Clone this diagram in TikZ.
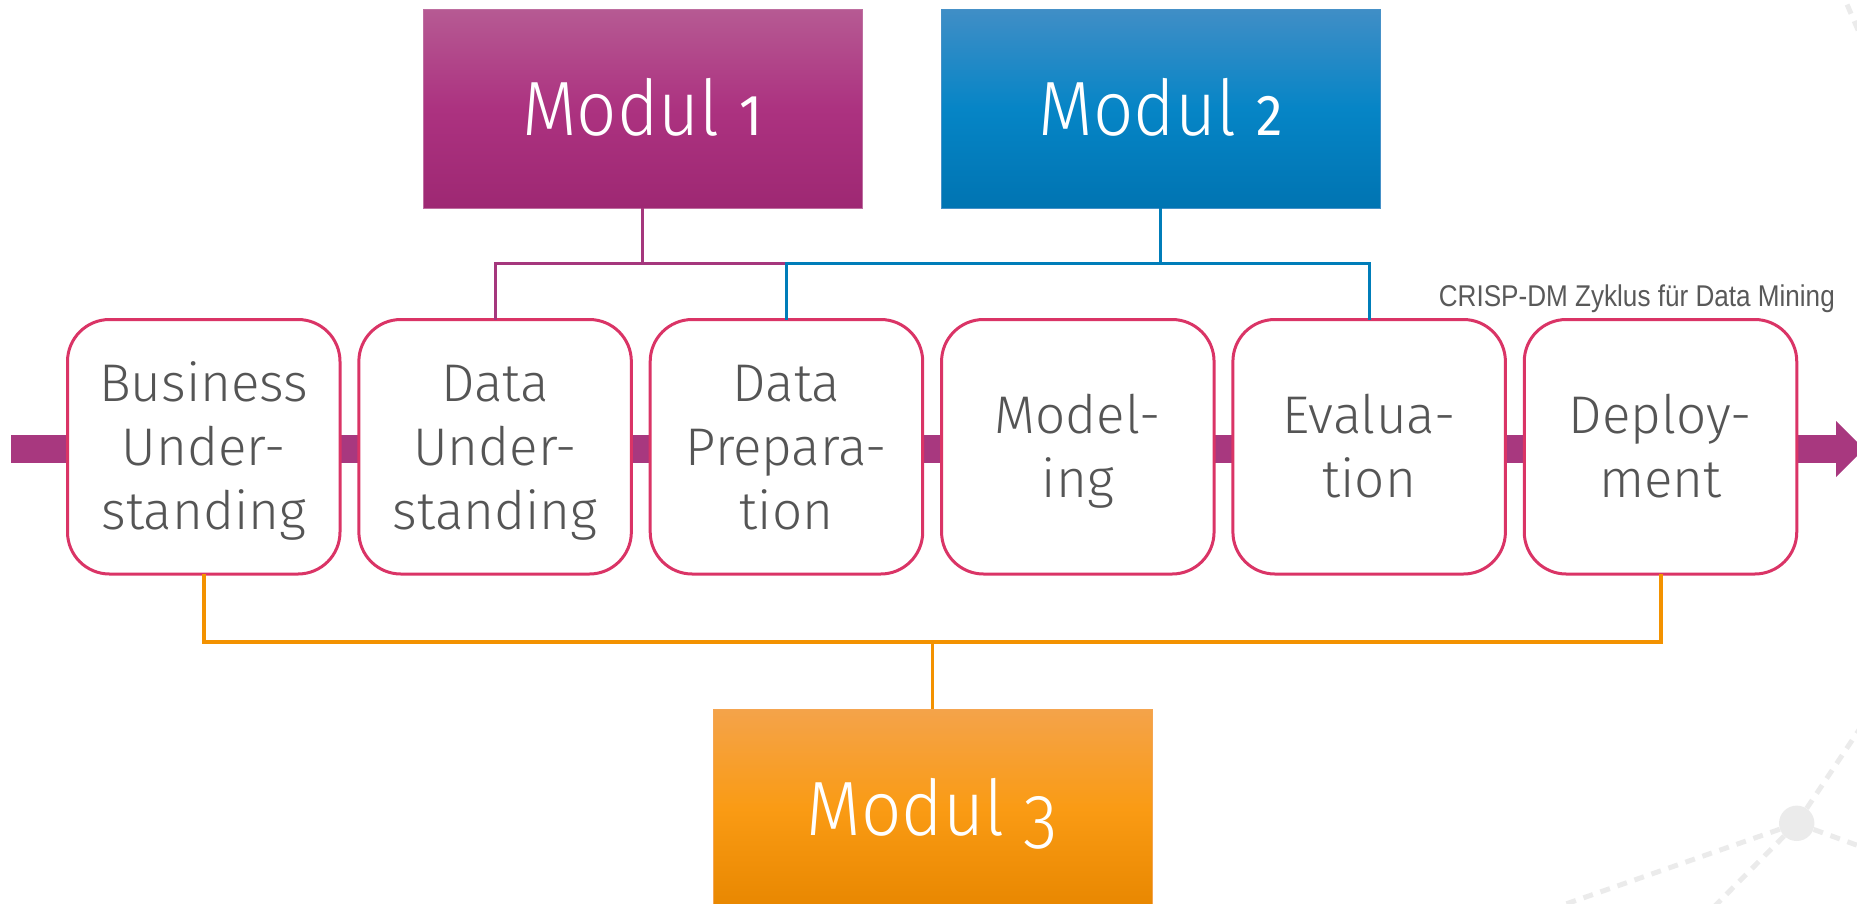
\documentclass[tikz,border=0pt]{standalone}
\usepackage{fontspec}
\usepackage{graphicx}
\setmainfont{Fira Sans Light}
\newfontfamily\firamod{Fira Sans Light}
\newfontfamily\firadigit{Fira Sans}
\newfontfamily\capfont{Liberation Sans}

\definecolor{stageborder}{RGB}{218,52,102}
\definecolor{stagetext}{RGB}{85,85,85}
\definecolor{flowband}{RGB}{168,56,127}
\definecolor{lineone}{RGB}{165,55,125}
\definecolor{linetwo}{RGB}{0,125,185}
\definecolor{linethree}{RGB}{243,146,0}
\definecolor{decor}{RGB}{235,235,235}
\definecolor{captext}{RGB}{89,89,89}

% struts that centre the capital letters of a stage label in its box
\newcommand\topstrut{\rule{0pt}{52pt}}
\newcommand\botstrut{\rule[-15.5pt]{0pt}{15.5pt}}
% module titles are set slightly narrow, with old-style figures
\newcommand\modtitle[1]{\scalebox{0.92}[1]{#1}}
\newcommand\osfsmall[1]{\scalebox{0.75}{\firadigit #1}}
\newcommand\osfdesc[1]{\raisebox{-13pt}{#1}}

\tikzset{
  stage/.style={draw=stageborder, line width=3pt, fill=white,
    rounded corners=42pt, minimum width=272.5pt, minimum height=254.5pt,
    inner sep=0pt, outer sep=0pt, align=center, text=stagetext,
    font=\fontsize{53}{64}\selectfont},
  modul/.style={minimum width=439pt, minimum height=199pt, inner sep=0pt,
    outer sep=0pt, text=white, line width=1pt,
    font=\firamod\fontsize{77}{77}\selectfont,
    text height=53pt, text depth=0pt},
  modone/.style={modul, draw={rgb,255:red,190;green,110;blue,160},
    top color={rgb,255:red,182;green,90;blue,147},
    bottom color={rgb,255:red,158;green,40;blue,115},
    middle color={rgb,255:red,172;green,50;blue,128}},
  modtwo/.style={modul, draw={rgb,255:red,70;green,145;blue,200},
    top color={rgb,255:red,64;green,142;blue,198},
    bottom color={rgb,255:red,0;green,116;blue,178},
    middle color={rgb,255:red,6;green,133;blue,198}},
  modthree/.style={modul, draw={rgb,255:red,245;green,165;blue,80},
    top color={rgb,255:red,244;green,163;blue,74},
    bottom color={rgb,255:red,232;green,135;blue,0},
    middle color={rgb,255:red,250;green,155;blue,20}},
  bus/.style={line width=3pt},
  decoline/.style={draw=decor, line width=5pt, dash pattern=on 10pt off 8pt},
}

\begin{document}
\begin{tikzpicture}[x=1pt, y=-1pt]
\useasboundingbox (0,0) rectangle (1857,903);
\clip (0,0) rectangle (1857,903);

% background network decoration
\node[circle, fill=decor, minimum size=35.4pt, inner sep=0pt] (hub) at (1796.7,823.3) {};
\coordinate (d1) at (1897,673);
\coordinate (d2) at (1917,867);
\coordinate (d3) at (1540,913);
\coordinate (d4) at (1700,921);
\coordinate (d5) at (1840,-12);
\coordinate (d6) at (1870,58);
\draw[decoline] (hub) -- (d1);
\draw[decoline] (hub) -- (d2);
\draw[decoline] (hub) -- (d3);
\draw[decoline] (hub) -- (d4);
\draw[decoline] (d5) -- (d6);

% process band with its arrow head
\coordinate (bandstart) at (11,449);
\coordinate (headbase) at (1836,449);
\draw[flowband, line width=28pt] (bandstart) -- (headbase);
\fill[flowband] (headbase) ++(0,-28) -- ++(28,28) -- ++(-28,28) -- cycle;

% CRISP-DM stages
\node[stage] (b1) at (203.75,446.75) {\topstrut Business\\Under-\\standing\botstrut};
\node[stage] (b2) at (495.1,446.75) {\topstrut Data\\Under-\\standing\botstrut};
\node[stage] (b3) at (786.45,446.75) {\topstrut Data\\Prepara-\\tion\botstrut};
\node[stage] (b4) at (1077.8,446.75) {\topstrut Model-\\ing\botstrut};
\node[stage] (b5) at (1369.15,446.75) {\topstrut Evalua-\\tion\botstrut};
\node[stage] (b6) at (1660.5,446.75) {\topstrut Deploy-\\ment\botstrut};

% modules
\node[modone] (m1) at (642.5,108.5) {\modtitle{Modul \osfsmall{1}}};
\node[modtwo] (m2) at (1160.5,108.5) {\modtitle{Modul \osfsmall{2}}};
\node[modthree] (m3) at (932.5,808.5) {\modtitle{Modul \osfdesc{3}}};

% module connectors
\draw[bus, lineone] (b2.north) -- (b2.north |- 0,263) -- (b3.north |- 0,263);
\draw[bus, lineone] (m1.south) -- (m1.south |- 0,263);
\draw[bus, linetwo] (b3.north) -- (b3.north |- 0,263) -- (b5.north |- 0,263) -- (b5.north);
\draw[bus, linetwo] (m2.south) -- (m2.south |- 0,263);
\draw[line width=4pt, linethree] (b1.south) -- (b1.south |- 0,642) -- (b6.south |- 0,642) -- (b6.south);
\draw[bus, linethree] (m3.north) -- (m3.north |- 0,642);

% caption
\node[anchor=base east, inner sep=0pt, text=captext, font=\capfont\fontsize{30}{36}\selectfont]
  (cap) at (1835,306.7) {\scalebox{0.87}[1]{CRISP-DM Zyklus für Data Mining}};
\end{tikzpicture}
\end{document}
